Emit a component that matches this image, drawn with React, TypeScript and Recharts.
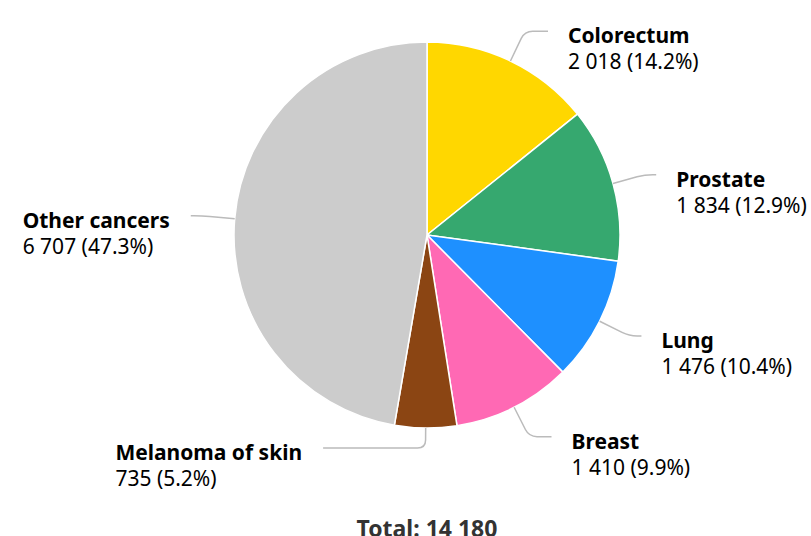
import React from "react";
import { PieChart, Pie, Cell } from "recharts";

const sites = [
  "Colorectum",
  "Prostate",
  "Lung",
  "Breast",
  "Melanoma of skin",
  "Other cancers",
];
const cases = [2018, 1834, 1476, 1410, 735, 6707];
const sliceColors = [
  "#ffd700",
  "#36a86f",
  "#1e90ff",
  "#ff69b4",
  "#8b4513",
  "#cccccc",
];

const total = cases.reduce((a, b) => a + b, 0);
const data = sites.map((name, i) => ({ name, value: cases[i] }));

const FONT = "'Noto Sans', sans-serif";
const FONT_SIZE = 21;

const fmt = (n: number) =>
  String(n).replace(/\B(?=(\d{3})+(?!\d))/g, " ");

let ctx: CanvasRenderingContext2D | null = null;
function textWidth(s: string, bold: boolean) {
  if (!ctx) ctx = document.createElement("canvas").getContext("2d");
  if (!ctx) return s.length * FONT_SIZE * 0.55;
  ctx.font = `${bold ? "bold " : ""}${FONT_SIZE}px 'Noto Sans'`;
  return ctx.measureText(s).width;
}

function renderLabel(props: any) {
  const { cx, cy, midAngle, outerRadius, index } = props;
  const rad = (-midAngle * Math.PI) / 180;
  const ux = Math.cos(rad);
  const uy = Math.sin(rad);
  const R = outerRadius + 44;

  let ey = cy + (outerRadius + 33) * uy;
  ey = Math.max(cy - outerRadius - 18, Math.min(cy + outerRadius + 20, ey));
  const right = ux >= 0;
  const dx = Math.sqrt(Math.max(0, R * R - (ey - cy) * (ey - cy)));
  const ex = cx + (right ? dx : -dx);

  const p0x = cx + outerRadius * ux;
  const p0y = cy + outerRadius * uy;

  // connector: radial out from the slice edge, then a soft bend to the label
  let path = `M${p0x},${p0y} L${ex},${ey}`;
  if (Math.abs(uy) > 1e-3) {
    const t = (ey - p0y) / uy;
    const kx = p0x + t * ux;
    const beyond = right ? kx > ex - 2 : kx < ex + 2;
    if (t > 10 && !beyond) {
      const s = Math.min(8, Math.abs(ex - kx) - 1);
      const ax = p0x + (t - 8) * ux;
      const ay = p0y + (t - 8) * uy;
      const bx = kx + (right ? s : -s);
      path = `M${p0x},${p0y} L${ax},${ay} Q${kx},${ey} ${bx},${ey} L${ex},${ey}`;
    } else if (t > 0) {
      // bend back towards the label height
      const ax = p0x + Math.min(t, 30) * ux;
      const ay = p0y + Math.min(t, 30) * uy;
      path = `M${p0x},${p0y} Q${ax},${ay} ${ex},${ey}`;
    }
  }

  const name = sites[index];
  const val = `${fmt(cases[index])} (${((cases[index] / total) * 100).toFixed(1)}%)`;
  const w = Math.max(textWidth(name, true), textWidth(val, false));
  const tx = right ? ex + 20 : ex - 21 - w;

  return (
    <g key={`lbl-${index}`}>
      <path d={path} fill="none" stroke="#bbbbbb" strokeWidth={1.5} />
      <text
        x={tx}
        y={ey + 12}
        fontFamily={FONT}
        fontSize={FONT_SIZE}
        fontWeight="bold"
        fill="#000"
      >
        {name}
      </text>
      <text x={tx} y={ey + 38} fontFamily={FONT} fontSize={FONT_SIZE} fill="#000">
        {val}
      </text>
    </g>
  );
}

export default function App() {
  return (
    <div
      style={{
        position: "absolute",
        left: 0,
        top: 0,
        width: 811,
        height: 536,
        overflow: "hidden",
        background: "#fff",
        fontFamily: FONT,
      }}
    >
      <PieChart width={811} height={536} margin={{ top: 0, right: 0, bottom: 0, left: 0 }}>
        <Pie
          data={data}
          dataKey="value"
          nameKey="name"
          cx={427}
          cy={235}
          outerRadius={193}
          startAngle={90}
          endAngle={-270}
          stroke="#ffffff"
          strokeWidth={1.5}
          label={renderLabel}
          labelLine={false}
          isAnimationActive={false}
        >
          {data.map((_, i) => (
            <Cell key={`cell-${i}`} fill={sliceColors[i]} />
          ))}
        </Pie>
      </PieChart>
      <div
        style={{
          position: "absolute",
          left: 0,
          width: 854,
          top: 512,
          textAlign: "center",
          fontSize: 23,
          fontWeight: "bold",
          color: "#333333",
          lineHeight: "32px",
        }}
      >
        Total: {fmt(total)}
      </div>
    </div>
  );
}
